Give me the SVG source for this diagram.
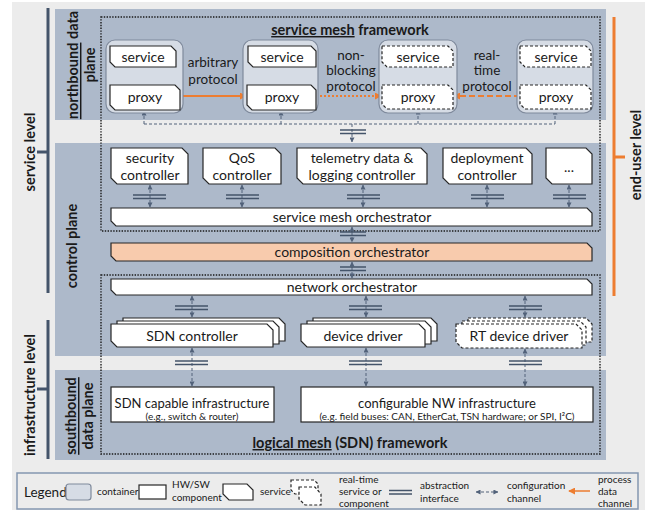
<svg xmlns="http://www.w3.org/2000/svg" width="645" height="510" viewBox="0 0 645 510">
  <defs>
    <style>
      .panel { fill: #adb9ca; }
      .cont { fill: #d6dce5; stroke: #7f8a9c; stroke-width: 1.2; }
      .box { fill: #ffffff; stroke: #262626; stroke-width: 1.2; }
      .rt { fill: #ffffff; stroke: #262626; stroke-width: 1.2; stroke-dasharray: 3 2; }
      .comp { fill: #f8cbad; stroke: #262626; stroke-width: 1.2; }
      .frame { fill: none; stroke: #1a1a1a; stroke-width: 1.4; stroke-dasharray: 1.4 1.4; }
      .t { font-family: Lato, "Liberation Sans", sans-serif; font-size: 14px; fill: #1a1a1a; text-anchor: middle; }
      .p { font-size: 13.5px; }
      .m { font-size: 13px; }
      .s { font-size: 10px; }
      .l { text-anchor: start; }
      .b { font-weight: bold; font-size: 14.5px; }
      .u { text-decoration: underline; }
      .cfg { fill: none; stroke: #52627a; stroke-width: 1; stroke-dasharray: 3 2; }
      .ifc { stroke: #44546a; stroke-width: 1.5; fill: none; }
      .pd { fill: none; stroke: #ed7d31; stroke-width: 2; }
      .brk { fill: none; stroke: #44546a; stroke-width: 3; }
      .brko { fill: none; stroke: #ed7d31; stroke-width: 3; }
    </style>
    <marker id="ao" viewBox="0 0 8 8" refX="7" refY="4" markerWidth="7" markerHeight="7" markerUnits="userSpaceOnUse" orient="auto">
      <path d="M0,0 L8,4 L0,8 Z" fill="#ed7d31"/>
    </marker>
    <marker id="ag" viewBox="0 0 6 6" refX="5.5" refY="3" markerWidth="5" markerHeight="5" markerUnits="userSpaceOnUse" orient="auto-start-reverse">
      <path d="M0,0 L6,3 L0,6 Z" fill="#52627a"/>
    </marker>
  </defs>

  <!-- background -->
  <rect x="12" y="2" width="633" height="508" fill="#ececec"/>

  <!-- planes -->
  <rect id="northbound-plane" class="panel" x="55" y="9" width="551" height="111"/>
  <rect id="control-plane" class="panel" x="55" y="143" width="551" height="213"/>
  <rect id="southbound-plane" class="panel" x="55" y="370" width="551" height="90"/>

  <!-- level brackets -->
  <g id="service-level">
    <path class="brk" d="M48,8 V293 M37,152 H48"/>
    <text class="t b" transform="translate(29,152) rotate(-90)" dominant-baseline="central">service level</text>
  </g>
  <g id="infrastructure-level">
    <path class="brk" d="M48,320 V459 M37,389 H48"/>
    <text class="t b" transform="translate(29,395) rotate(-90)" dominant-baseline="central">infrastructure level</text>
  </g>
  <g id="end-user-level">
    <path class="brko" d="M614,17 V296 M614,157 H625"/>
    <text class="t b" transform="translate(635,155) rotate(-90)" dominant-baseline="central">end-user level</text>
  </g>

  <!-- plane labels -->
  <text class="t b" transform="translate(72,65) rotate(-90)" dominant-baseline="central"><tspan class="u">northbound</tspan> data</text>
  <text class="t b" transform="translate(89,65) rotate(-90)" dominant-baseline="central">plane</text>
  <text class="t b" transform="translate(71,246) rotate(-90)" dominant-baseline="central">control plane</text>
  <text class="t b" transform="translate(70,416) rotate(-90)" dominant-baseline="central"><tspan class="u">southbound</tspan></text>
  <text class="t b" transform="translate(87,416) rotate(-90)" dominant-baseline="central">data plane</text>

  <!-- framework outlines -->
  <g id="service-mesh-framework">
    <rect class="frame" x="101" y="17" width="499" height="214"/>
    <text class="t b" x="350" y="35"><tspan class="u">service mesh</tspan> framework</text>
  </g>
  <g id="logical-mesh-framework">
    <rect class="frame" x="101" y="275" width="499" height="179"/>
    <text class="t b" x="350" y="448"><tspan class="u">logical mesh</tspan> (SDN) framework</text>
  </g>

  <!-- connectors -->
  <g id="connectors">
    <!-- process data channels -->
    <path class="pd" d="M143,67 V84" marker-end="url(#ao)"/>
    <path class="pd" d="M282,85 V68" marker-end="url(#ao)"/>
    <path class="pd" d="M418,85 V68" stroke-dasharray="5 3" marker-end="url(#ao)"/>
    <path class="pd" d="M556,67 V84" stroke-dasharray="5 3" marker-end="url(#ao)"/>
    <path class="pd" d="M180,96 H246" marker-end="url(#ao)"/>
    <path class="pd" d="M316,96 H381" stroke-dasharray="2 2" marker-end="url(#ao)"/>
    <path class="pd" d="M520,96 H454" stroke-dasharray="6 3" marker-end="url(#ao)"/>

    <!-- configuration channels of the proxies -->
    <path class="cfg" d="M144,124 V111" marker-end="url(#ag)"/>
    <path class="cfg" d="M281,124 V111" marker-end="url(#ag)"/>
    <path class="cfg" d="M418,124 V110" marker-end="url(#ag)"/>
    <path class="cfg" d="M555,124 V110" marker-end="url(#ag)"/>
    <path class="cfg" d="M144,124 H555"/>
    <path class="cfg" d="M352,124 V142" marker-end="url(#ag)"/>
    <path class="ifc" d="M340,130 H366 M340,133.5 H366"/>

    <!-- controllers to service mesh orchestrator -->
    <g>
      <path class="cfg" d="M150,185 V207" marker-start="url(#ag)" marker-end="url(#ag)"/>
      <path class="cfg" d="M242,185 V207" marker-start="url(#ag)" marker-end="url(#ag)"/>
      <path class="cfg" d="M363,185 V207" marker-start="url(#ag)" marker-end="url(#ag)"/>
      <path class="cfg" d="M487,185 V207" marker-start="url(#ag)" marker-end="url(#ag)"/>
      <path class="cfg" d="M569,185 V207" marker-start="url(#ag)" marker-end="url(#ag)"/>
      <path class="ifc" d="M133,195 H166 M133,198.5 H166"/>
      <path class="ifc" d="M226,195 H259 M226,198.5 H259"/>
      <path class="ifc" d="M347,195 H380 M347,198.5 H380"/>
      <path class="ifc" d="M471,195 H504 M471,198.5 H504"/>
      <path class="ifc" d="M553,195 H586 M553,198.5 H586"/>
    </g>

    <!-- orchestrator chain -->
    <path class="cfg" d="M352,227 V242" marker-start="url(#ag)" marker-end="url(#ag)"/>
    <path class="ifc" d="M340,232 H366 M340,235.5 H366"/>
    <path class="cfg" d="M352,262 V278" marker-start="url(#ag)" marker-end="url(#ag)"/>
    <path class="ifc" d="M340,267 H366 M340,270.5 H366"/>

    <!-- network orchestrator to drivers -->
    <path class="cfg" d="M192,296 V317" marker-start="url(#ag)" marker-end="url(#ag)"/>
    <path class="cfg" d="M366,296 V317" marker-start="url(#ag)" marker-end="url(#ag)"/>
    <path class="cfg" d="M525,296 V317" marker-start="url(#ag)" marker-end="url(#ag)"/>
    <path class="ifc" d="M175,306 H208 M175,309.5 H208"/>
    <path class="ifc" d="M349,306 H382 M349,309.5 H382"/>
    <path class="ifc" d="M509,306 H542 M509,309.5 H542"/>

    <!-- drivers to infrastructure -->
    <path class="cfg" d="M192,348 V386" marker-start="url(#ag)" marker-end="url(#ag)"/>
    <path class="cfg" d="M366,348 V386" marker-start="url(#ag)" marker-end="url(#ag)"/>
    <path class="cfg" d="M525,349 V386" marker-start="url(#ag)" marker-end="url(#ag)"/>
    <path class="ifc" d="M175,361 H208 M175,364.5 H208"/>
    <path class="ifc" d="M349,361 H382 M349,364.5 H382"/>
    <path class="ifc" d="M509,361 H542 M509,364.5 H542"/>
  </g>

  <!-- service + proxy pairs -->
  <g id="pair-1">
    <rect class="cont" x="106" y="40" width="77" height="73" rx="9"/>
    <path class="box" d="M110,46 H171 L176,51 V67 H115 L110,62 Z"/>
    <path class="box" d="M110,85 H175 L180,90 V110 H115 L110,105 Z"/>
    <text class="t" x="143" y="62">service</text>
    <text class="t" x="145" y="102">proxy</text>
  </g>
  <g id="pair-2">
    <rect class="cont" x="243" y="40" width="75" height="73" rx="9"/>
    <path class="box" d="M248,46 H311 L316,51 V67 H253 L248,62 Z"/>
    <path class="box" d="M247,85 H311 L316,90 V110 H252 L247,105 Z"/>
    <text class="t" x="282" y="62">service</text>
    <text class="t" x="282" y="102">proxy</text>
  </g>
  <g id="pair-3">
    <rect class="cont" x="379" y="40" width="78" height="73" rx="9"/>
    <path class="rt" d="M382,46 H448 L453,51 V67 H387 L382,62 Z"/>
    <path class="rt" d="M382,85 H448 L453,90 V109 H387 L382,104 Z"/>
    <text class="t" x="418" y="62">service</text>
    <text class="t" x="418" y="102">proxy</text>
  </g>
  <g id="pair-4">
    <rect class="cont" x="517" y="40" width="76" height="73" rx="9"/>
    <path class="rt" d="M520,46 H586 L591,51 V67 H525 L520,62 Z"/>
    <path class="rt" d="M520,85 H586 L591,90 V109 H525 L520,104 Z"/>
    <text class="t" x="556" y="62">service</text>
    <text class="t" x="556" y="102">proxy</text>
  </g>

  <!-- protocol labels -->
  <text class="t p" x="213" y="67">arbitrary</text>
  <text class="t p" x="213" y="84">protocol</text>
  <text class="t p" x="351" y="60">non-</text>
  <text class="t p" x="351" y="75">blocking</text>
  <text class="t p" x="351" y="91">protocol</text>
  <text class="t p" x="487" y="60">real-</text>
  <text class="t p" x="487" y="75">time</text>
  <text class="t p" x="487" y="91">protocol</text>

  <!-- controllers -->
  <g id="security-controller">
    <path class="box" d="M111,148 H182 L188,154 V184 H117 L111,178 Z"/>
    <text class="t" x="150" y="163">security</text>
    <text class="t" x="150" y="180">controller</text>
  </g>
  <g id="qos-controller">
    <path class="box" d="M203,148 H275 L281,154 V184 H209 L203,178 Z"/>
    <text class="t" x="242" y="163">QoS</text>
    <text class="t" x="242" y="180">controller</text>
  </g>
  <g id="telemetry-controller">
    <path class="box" d="M297,148 H421 L427,154 V184 H303 L297,178 Z"/>
    <text class="t" x="362" y="163">telemetry data &amp;</text>
    <text class="t" x="362" y="180">logging controller</text>
  </g>
  <g id="deployment-controller">
    <path class="box" d="M443,148 H526 L532,154 V184 H449 L443,178 Z"/>
    <text class="t" x="487" y="163">deployment</text>
    <text class="t" x="487" y="180">controller</text>
  </g>
  <g id="more-controllers">
    <path class="box" d="M546,148 H586 L592,154 V184 H552 L546,178 Z"/>
    <text class="t" x="569" y="172">...</text>
  </g>

  <!-- orchestrators -->
  <g id="service-mesh-orchestrator">
    <path class="box" d="M111,208 H587 L592,213 V226 H116 L111,221 Z"/>
    <text class="t" x="352" y="222">service mesh orchestrator</text>
  </g>
  <g id="composition-orchestrator">
    <path class="comp" d="M111,243 H587 L592,248 V261 H116 L111,256 Z"/>
    <text class="t" x="352" y="257">composition orchestrator</text>
  </g>
  <g id="network-orchestrator">
    <path class="box" d="M111,279 H587 L592,284 V295 H116 L111,290 Z"/>
    <text class="t" x="352" y="292">network orchestrator</text>
  </g>

  <!-- drivers -->
  <g id="sdn-controller">
    <path class="box" d="M123,318 H279 L285,324 V341 H129 L123,335 Z"/>
    <path class="box" d="M117,321 H273 L279,327 V344 H123 L117,338 Z"/>
    <path class="box" d="M111,324 H267 L273,330 V347 H117 L111,341 Z"/>
    <text class="t" x="192" y="341">SDN controller</text>
  </g>
  <g id="device-driver">
    <path class="box" d="M313,318 H431 L437,324 V341 H319 L313,335 Z"/>
    <path class="box" d="M307,321 H425 L431,327 V344 H313 L307,338 Z"/>
    <path class="box" d="M301,324 H419 L425,330 V347 H307 L301,341 Z"/>
    <text class="t" x="363" y="341">device driver</text>
  </g>
  <g id="rt-device-driver">
    <path class="rt" d="M468,318 H586 L592,324 V342 H474 L468,336 Z"/>
    <path class="rt" d="M462,321 H580 L586,327 V345 H468 L462,339 Z"/>
    <path class="rt" d="M456,324 H576 L582,330 V348 H462 L456,342 Z"/>
    <text class="t" x="519" y="341">RT device driver</text>
  </g>

  <!-- infrastructure -->
  <g id="sdn-infrastructure">
    <rect class="box" x="111" y="387" width="163" height="35"/>
    <text class="t m" x="192" y="408">SDN capable infrastructure</text>
    <text class="t s" x="192" y="420">(e.g., switch &amp; router)</text>
  </g>
  <g id="nw-infrastructure">
    <rect class="box" x="301" y="387" width="292" height="35"/>
    <text class="t m" x="447" y="408">configurable NW infrastructure</text>
    <text class="t s" x="447" y="420">(e.g. field buses: CAN, EtherCat, TSN hardware; or SPI, I²C)</text>
  </g>

  <!-- legend -->
  <g id="legend">
    <rect x="17" y="473" width="621" height="36" fill="#ececec" stroke="#8497b0" stroke-width="1.5"/>
    <text class="t l" x="24" y="497" style="font-size:13.5px">Legend</text>
    <rect class="cont" x="66" y="484" width="25" height="16" rx="3"/>
    <text class="t s l" x="97" y="495">container</text>
    <rect class="box" x="139" y="485" width="27" height="14"/>
    <text class="t s l" x="172" y="488">HW/SW</text>
    <text class="t s l" x="172" y="501">component</text>
    <path class="box" d="M223,484 H247 L253,490 V500 H229 L223,494 Z"/>
    <text class="t s l" x="260" y="495">service</text>
    <path class="rt" d="M291,480 H314 L318,484 V494 H295 L291,490 Z"/>
    <path class="rt" d="M299,487 H315 L321,494 V505 H305 L299,499 Z"/>
    <text class="t s l" x="339" y="483">real-time</text>
    <text class="t s l" x="339" y="495">service or</text>
    <text class="t s l" x="339" y="507">component</text>
    <path class="ifc" d="M389,490.5 H412 M389,494 H412"/>
    <text class="t s l" x="420" y="489">abstraction</text>
    <text class="t s l" x="420" y="502">interface</text>
    <path class="cfg" d="M476,492 H498" marker-start="url(#ag)" marker-end="url(#ag)"/>
    <text class="t s l" x="507" y="489">configuration</text>
    <text class="t s l" x="507" y="502">channel</text>
    <path d="M590,491 H569" stroke="#ed7d31" stroke-width="1.5" marker-end="url(#ao)"/>
    <text class="t s l" x="598" y="483">process</text>
    <text class="t s l" x="598" y="495">data</text>
    <text class="t s l" x="598" y="507">channel</text>
  </g>
</svg>
